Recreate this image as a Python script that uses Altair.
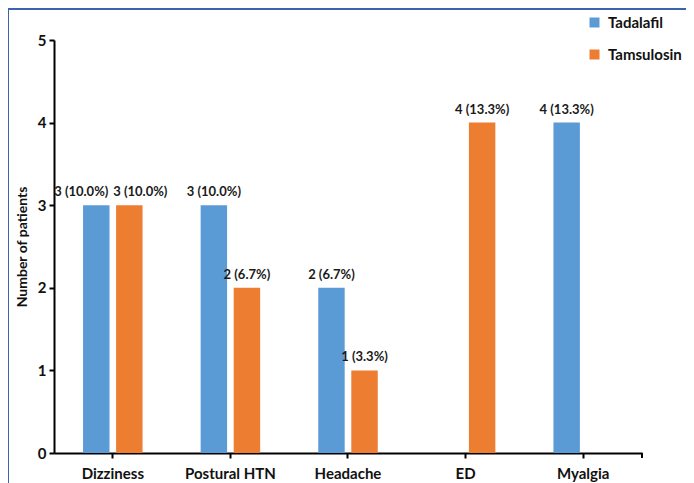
import altair as alt
import pandas as pd

categories = ["Dizziness", "Postural HTN", "Headache", "ED", "Myalgia"]
tadalafil = [3, 3, 2, 0, 4]
tamsulosin = [3, 2, 1, 4, 0]
groups = ["Tadalafil", "Tamsulosin"]
colors = ["#5B9BD5", "#ED7D31"]
total_patients = 30

rows = []
for i, c in enumerate(categories):
    for g, vals in zip(groups, [tadalafil, tamsulosin]):
        v = vals[i]
        if v > 0:
            rows.append({"Event": c, "Group": g, "Count": v,
                         "Label": f"{v} ({v / total_patients * 100:.1f}%)"})
df = pd.DataFrame(rows)

FONT = "Lato"

x_enc = alt.X("Event:N", sort=categories,
              scale=alt.Scale(paddingInner=0.494, paddingOuter=0.247),
              axis=alt.Axis(title=None, labelAngle=0, labelFont=FONT, labelFontSize=15,
                            labelFontWeight="bold", labelColor="#111", labelPadding=8,
                            domainColor="#000", domainWidth=2, tickColor="#000",
                            tickWidth=2, tickSize=5, bandPosition=0.5))
xo_enc = alt.XOffset("Group:N", sort=groups,
                     scale=alt.Scale(paddingInner=0.2, paddingOuter=0))
y_enc = alt.Y("Count:Q", scale=alt.Scale(domain=[0, 5], nice=False),
              axis=alt.Axis(title="Number of patients", values=[0, 1, 2, 3, 4, 5],
                            format="d", labelFont=FONT, labelFontSize=15,
                            labelFontWeight="bold", labelColor="#111", labelPadding=3,
                            titleFont=FONT, titleFontSize=14, titleFontWeight="bold",
                            titleColor="#111", titlePadding=8,
                            domainColor="#000", domainWidth=2, tickColor="#000",
                            tickWidth=2, tickSize=5, grid=False))
color_enc = alt.Color("Group:N", sort=groups,
                      scale=alt.Scale(domain=groups, range=colors),
                      legend=alt.Legend(title=None, orient="none", legendX=533, legendY=-25,
                                        symbolType="square", symbolSize=100,
                                        symbolStrokeWidth=0, labelFont=FONT,
                                        labelFontSize=15, labelFontWeight="bold",
                                        labelColor="#111", rowPadding=16, padding=0,
                                        labelOffset=6))

base = alt.Chart(df)

bars = base.mark_bar().encode(x=x_enc, xOffset=xo_enc, y=y_enc, color=color_enc)


def labels(filt, dx):
    return base.transform_filter(filt).mark_text(
        align="center", baseline="bottom", dy=-6, dx=dx, font=FONT,
        fontSize=13, fontWeight="bold", color="#1a1a1a"
    ).encode(x=alt.X("Event:N", sort=categories), xOffset=alt.XOffset("Group:N", sort=groups),
             y="Count:Q", text="Label:N")


lab_main = labels("datum.Event != 'Dizziness'", 0)
lab_d1 = labels("datum.Event == 'Dizziness' && datum.Group == 'Tadalafil'", -15)
lab_d2 = labels("datum.Event == 'Dizziness' && datum.Group == 'Tamsulosin'", 11)

end_tick = alt.Chart(df).mark_rule(color="#000", strokeWidth=2).encode(
    x=alt.value(588), y=alt.value(413), y2=alt.value(418))

frame_top = alt.Chart(df).mark_rule(color="#3F63AE", strokeWidth=1.5).encode(
    x=alt.value(-46), x2=alt.value(640), y=alt.value(-31))
frame_left = alt.Chart(df).mark_rule(color="#3F63AE", strokeWidth=1.5).encode(
    x=alt.value(-46), y=alt.value(-31), y2=alt.value(445))

chart = alt.layer(bars, lab_main, lab_d1, lab_d2, end_tick, frame_top, frame_left).properties(
    width=588, height=413,
    autosize=alt.AutoSizeParams(type="none"),
    padding={"left": 46, "top": 32, "right": 44, "bottom": 30},
    background="white",
).configure_view(stroke=None)

chart.save("out.html", embed_options={"renderer": "svg", "actions": False})
